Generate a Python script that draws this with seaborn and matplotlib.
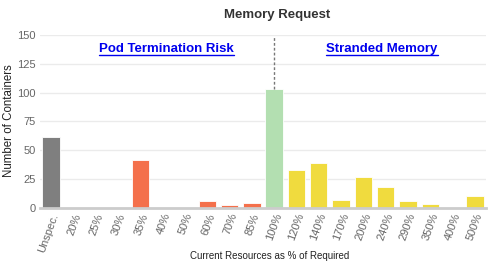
import matplotlib
matplotlib.use("Agg")
import matplotlib.pyplot as plt
import seaborn as sns
import pandas as pd

categories = ["Unspec.", "20%", "25%", "30%", "35%", "40%", "50%", "60%", "70%", "85%",
              "100%", "120%", "140%", "170%", "200%", "240%", "290%", "350%", "400%", "500%"]
counts = [61, 0, 0, 0, 41, 0, 0, 6, 2, 4, 103, 33, 39, 7, 27, 18, 6, 3, 0, 10]
groups = ["unspec"] + ["risk"] * 9 + ["ok"] + ["stranded"] * 9
group_colors = {"unspec": "#7f7f7f", "risk": "#f4704b", "ok": "#b3dfb1", "stranded": "#f0db3e"}
yticks = [0, 25, 50, 75, 100, 125, 150]

sns.set_style("white")
plt.rcParams["font.family"] = ["Liberation Sans", "DejaVu Sans"]

df = pd.DataFrame({"cat": categories, "count": counts, "group": groups})
colors = [group_colors[g] for g in groups]

fig = plt.figure(figsize=(5.01, 2.68), dpi=100)
ax = fig.add_axes([40/501, 1-207.7/268, 446/501, (207.7-35)/268])
sns.barplot(data=df, x="cat", y="count", hue="cat", palette=colors, legend=False,
            width=0.78, ax=ax, edgecolor="white", linewidth=0.6, saturation=1)
ax.set_ylim(0, 150)
ax.set_xlim(-0.5, len(categories) - 0.5)
ax.set_yticks(yticks)
ax.yaxis.grid(True, color="#ebebeb", linewidth=1)
ax.set_axisbelow(True)
for s in ["top", "right", "left"]:
    ax.spines[s].set_visible(False)
ax.spines["bottom"].set_color("#cccccc")
ax.spines["bottom"].set_linewidth(2)
ax.tick_params(axis="both", length=0, labelsize=8, colors="#666666", pad=3)
ax.set_xticks(range(len(categories)))
ax.set_xticklabels(categories, rotation=70, ha="right", rotation_mode="anchor")
ax.set_ylabel("")
ax.set_xlabel("")
fig.text(9/501, 1-121/268, "Number of Containers", fontsize=8.3, color="#222222",
         rotation=90, ha="center", va="center")
fig.text(270/501, 1-256/268, "Current Resources as % of Required", fontsize=7,
         color="#222222", ha="center", va="center")

i100 = categories.index("100%")
ax.plot([i100, i100], [counts[i100], 149], linestyle=(0, (2, 1.5)), color="#777777", linewidth=1)

ax.text(5.18, 138, "Pod Termination Risk", color="#0000ee", fontsize=9.5, fontweight="bold",
        ha="center", va="center")
ax.text(14.84, 138, "Stranded Memory", color="#0000ee", fontsize=9.5, fontweight="bold",
        ha="center", va="center")

fig.text(277/501, 1-15/268, "Memory Request", fontsize=9.5, fontweight="bold",
         color="#333333", ha="center", va="center")

fig.canvas.draw()
for t in ax.texts:
    bb = t.get_window_extent().transformed(ax.transData.inverted())
    ax.plot([bb.x0, bb.x1], [bb.y0 - 0.5, bb.y0 - 0.5], color="#0000ee", linewidth=1, clip_on=False)

fig.savefig("out.png", dpi=100)
